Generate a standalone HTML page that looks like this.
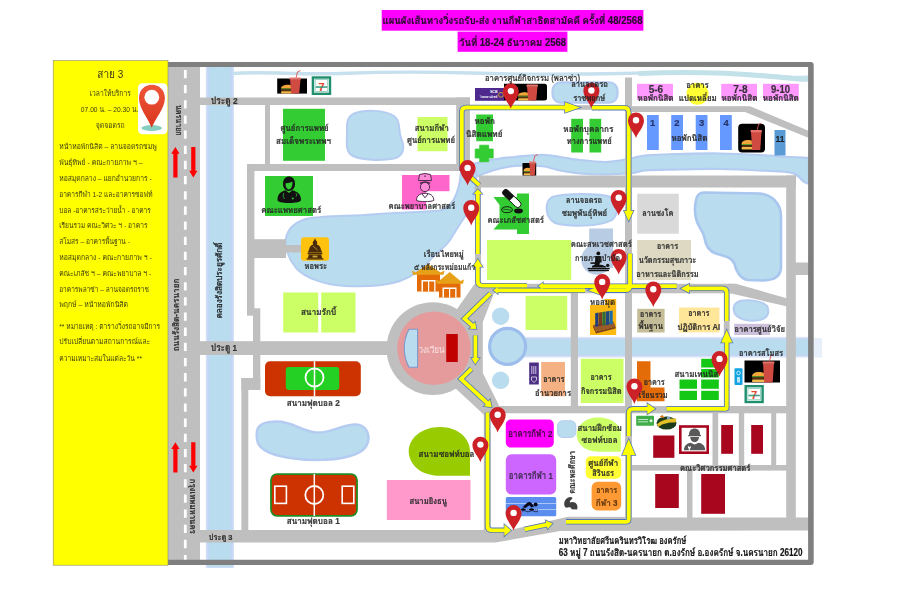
<!DOCTYPE html>
<html lang="th">
<head>
<meta charset="utf-8">
<title>แผนผังเส้นทางวิ่งรถรับ-ส่ง สาย 3</title>
<style>
html,body{margin:0;padding:0;background:#ffffff;}
body{width:900px;height:600px;overflow:hidden;font-family:"Liberation Sans","Loma","Noto Sans Thai Looped","Noto Sans Thai","Sarabun",sans-serif;}
svg{display:block;}
svg text{font-family:"Liberation Sans","Loma","Noto Sans Thai Looped","Noto Sans Thai","Sarabun",sans-serif;}
</style>
</head>
<body>
<svg width="900" height="600" viewBox="0 0 900 600">
<defs>
<symbol id="pin" overflow="visible">
<path d="M0,0 C-1.5,-5 -8,-10.8 -8,-17.5 A8,8 0 1 1 8,-17.5 C8,-10.8 1.5,-5 0,0 Z" fill="#cc2127"/>
<circle cx="0" cy="-17.7" r="3.2" fill="#ffffff"/>
</symbol>
<filter id="soft" x="-2%" y="-2%" width="104%" height="104%"><feGaussianBlur stdDeviation="0.6"/></filter>
<linearGradient id="pg" x1="0" y1="0" x2="0" y2="1"><stop offset="0" stop-color="#f0563a"/><stop offset="1" stop-color="#d8361c"/></linearGradient>
</defs>
<rect x="0" y="0" width="900" height="600" fill="#ffffff"/>
<rect x="168.00" y="62.00" width="645.00" height="504.00" fill="#ffffff"/>
<g id="water" filter="url(#soft)">
<rect x="205.80" y="66.00" width="28.20" height="501.50" fill="#d3e1f8"/>
<rect x="207.30" y="66.00" width="25.30" height="501.50" fill="#c2d5f4"/>
<rect x="209.20" y="66.00" width="21.40" height="501.50" fill="#b9dcee"/>
<path d="M233,73.5 C260,71 300,75 340,73.5 S420,71.5 470,73 S560,75 620,73.5 S720,72 760,75 S800,78 809,77" fill="none" stroke="#c6e0ee" stroke-width="3.4"/>
<path d="M640,73.5 C690,71.5 730,73 765,76 S800,80 809,79" fill="none" stroke="#c3e1e9" stroke-width="5" stroke-linecap="round"/>
<path d="M462,166.5 C463.3,166.2 466.2,165.9 470,165 C473.8,164.1 480.0,162.1 485,161 C490.0,159.9 495.0,159.2 500,158.5 C505.0,157.8 510.0,157.5 515,157 C520.0,156.5 525.0,155.8 530,155.5 C535.0,155.2 540.0,154.8 545,155 C550.0,155.2 554.2,156.2 560,157 C565.8,157.8 572.5,159.2 580,160 C587.5,160.8 598.3,161.9 605,162 C611.7,162.1 615.3,161.2 620,160.5 C624.7,159.8 628.8,158.8 633,158 C637.2,157.2 637.2,156.2 645,155.5 C652.8,154.8 667.5,154.3 680,154 C692.5,153.7 706.7,153.3 720,153.5 C733.3,153.7 748.3,154.4 760,155 C771.7,155.6 781.8,156.5 790,157 C798.2,157.5 805.8,157.8 809,158 L809,184 C808.0,183.5 804.8,182.3 803,181 C801.2,179.7 800.2,177.4 798,176 C795.8,174.6 794.7,173.3 790,172.5 C785.3,171.7 781.7,171.6 770,171 C758.3,170.4 735.0,169.2 720,169 C705.0,168.8 692.5,169.2 680,169.5 C667.5,169.8 652.8,169.9 645,170.5 C637.2,171.1 639.7,172.3 633,173 C626.3,173.7 613.8,174.4 605,174.5 C596.2,174.6 587.5,174.2 580,173.5 C572.5,172.8 565.8,171.7 560,170.5 C554.2,169.3 550.0,167.3 545,166.5 C540.0,165.7 535.0,165.6 530,165.5 C525.0,165.4 520.0,165.3 515,165.8 C510.0,166.3 505.0,167.3 500,168.5 C495.0,169.7 488.7,171.8 485,173 C481.3,174.2 481.8,175.5 478,176 C474.2,176.5 464.7,176.0 462,176 Z" fill="#b9dcee" stroke="#b4ccf1" stroke-width="2.2" stroke-linejoin="round"/>
<path d="M462,166 C470,166 477,168 476.5,176 C476,186 475,194 472.5,202 C470,210 465,216 460,224 L450,240 C446,246 440,250 432,258 C424,268 414,276 400,281 C385,286 365,287 345,286 C325,285 305,278 296,268 C288,258 284,246 286,238 C288,228 296,222 306,219 C325,215 350,216.5 372,214.5 C395,212.5 420,212.5 440,210.5 C452,208 457,195 459.5,183 C460.5,177 461,172 462,166 Z" fill="#b9dcee" stroke="#b4ccf1" stroke-width="2"/>
<path d="M353,114 C365,109 385,110 394,116 C401,121 398,130 401,138 C405,147 404,156 394,158.5 C380,161 362,160 353,156 C345,152 347,142 347,134 C347,126 346,118 353,114 Z" fill="#b9dcee" stroke="#b4ccf1" stroke-width="2"/>
<rect x="552.6" y="82.4" width="64.8" height="20.2" rx="8" fill="#b9dcee" stroke="#b4ccf1" stroke-width="2.4"/>
<path d="M552,197 C565,193 600,193 611,197 C619,201 619,214 612,220 C600,227 568,227 555,223 C545,218 544,202 552,197 Z" fill="#b9dcee" stroke="#b4ccf1" stroke-width="2"/>
<path d="M704,192.5 L760,193.5 C771,194.5 781,203 781,216 L781,267 C781,276 774,280.5 762,280.5 L748,280 C741,279 736,272 734.5,264 C732.5,257.5 724,256 716,253.5 C708,251 705.5,245 704.5,238 C703.5,232 699.5,228 697,222 C694.5,216 694.5,206 696,200 C697,195 700,192.5 704,192.5 Z" fill="#b9dcee" stroke="#a9c6ee" stroke-width="2.6"/>
<path d="M740,301 C750,299 762,301 767,306 C770,312 768,318 760,320 C750,322 740,320 735,314 C732,308 734,303 740,301 Z" fill="#b9dcee" stroke="#b4ccf1" stroke-width="2"/>
<rect x="508.00" y="336.80" width="302.00" height="20.80" fill="#dbe7f9"/>
<rect x="508.00" y="338.20" width="302.00" height="18.00" fill="#c3d6f4"/>
<rect x="508.00" y="340.00" width="302.00" height="14.30" fill="#b9dcee"/>
<circle cx="500.6" cy="316.2" r="8.7" fill="#b9dcee"/>
<circle cx="500.6" cy="380.3" r="8.7" fill="#b9dcee"/>
<circle cx="507.6" cy="346.4" r="18" fill="#b9dcee" stroke="#9dbdec" stroke-width="3.2"/>
<path d="M257,431 C258,424 266,421.5 277,421.5 C292,421.5 303,431.5 316,432.5 C330,433.5 340,425.5 354,424.5 C363,424 368.5,430 368.5,438 C368.5,448 361,453 350,456 C335,460.5 312,461 294,458.5 C278,456.5 264,452 259,445 C256,440 256.5,435 257,431 Z" fill="#b9dcee" stroke="#b4ccf1" stroke-width="2.5"/>
<rect x="557.5" y="420.8" width="18.3" height="16.7" rx="5" fill="#b9dcee" stroke="#b4ccf1" stroke-width="1"/>
</g>
<g id="roads" fill="#bfbfbf">
<rect x="168.00" y="66.00" width="32.00" height="495.00"/>
<rect x="200.00" y="97.50" width="270.00" height="7.50"/>
<rect x="456.20" y="97.50" width="13.80" height="73.50"/>
<rect x="265.00" y="105.00" width="5.00" height="59.00"/>
<rect x="247.00" y="164.00" width="223.00" height="7.00"/>
<rect x="247.00" y="164.00" width="7.40" height="151.70"/>
<rect x="254.00" y="239.20" width="32.00" height="18.80"/>
<rect x="285.00" y="245.00" width="17.00" height="7.50"/>
<rect x="253.00" y="308.30" width="7.30" height="81.70"/>
<rect x="200.00" y="341.20" width="200.00" height="13.80"/>
<rect x="241.40" y="378.00" width="18.90" height="12.00"/>
<rect x="241.40" y="378.00" width="6.90" height="153.00"/>
<rect x="200.00" y="530.00" width="296.00" height="12.50"/>
<path d="M495,530 L510,530 L568,516.8 L809,517.5 L809,530.5 L560,531 L495.5,542.5 Z"/>
<rect x="478.80" y="175.50" width="317.20" height="12.00"/>
<rect x="786.20" y="175.50" width="9.60" height="354.50"/>
<rect x="795.00" y="262.50" width="14.00" height="12.50"/>
<rect x="625.00" y="77.50" width="7.00" height="452.50"/>
<rect x="632.00" y="106.20" width="113.00" height="5.80"/>
<path d="M743,106.2 L750,106.2 L809,131 L809,138 L745,112 Z"/>
<rect x="475.00" y="186.00" width="6.00" height="106.00"/>
<rect x="723.80" y="288.00" width="5.80" height="120.00"/>
<rect x="470.00" y="105.20" width="156.00" height="4.60"/>
<rect x="478.00" y="283.80" width="254.00" height="9.50"/>
<path d="M728,283.8 L736,283.8 L787.5,298.5 L787.5,306.5 L730,293.3 Z"/>
<rect x="570.80" y="292.00" width="7.20" height="115.00"/>
<rect x="482.50" y="406.00" width="304.50" height="7.30"/>
<rect x="483.80" y="406.00" width="7.00" height="125.00"/>
<rect x="632.00" y="413.00" width="155.00" height="105.00"/>
<path d="M474.5,284 L494,293.3 L482.8,322 L482.8,373 L499,405.5 L485.3,416 L453,386 L455,312 Z"/>
<circle cx="432.8" cy="348.6" r="46.3"/>
</g>
<rect x="632.00" y="413.30" width="80.50" height="51.70" fill="#ffffff"/>
<rect x="718.20" y="413.30" width="20.60" height="51.70" fill="#ffffff"/>
<rect x="744.20" y="413.30" width="27.00" height="51.70" fill="#ffffff"/>
<rect x="776.20" y="413.30" width="10.00" height="51.70" fill="#ffffff"/>
<rect x="632.00" y="470.60" width="55.00" height="46.90" fill="#ffffff"/>
<rect x="692.50" y="470.60" width="93.70" height="46.90" fill="#ffffff"/>
<line x1="185.3" y1="69.9" x2="185.3" y2="560" stroke="#ffffff" stroke-width="2.8" stroke-dasharray="8.3 6.86"/>
<g id="buildings">
<rect x="283.00" y="108.80" width="42.00" height="52.00" fill="#33cc33"/>
<rect x="265.00" y="176.00" width="48.00" height="40.00" fill="#33cc33"/>
<rect x="283.20" y="292.50" width="35.00" height="40.00" fill="#ccff66"/>
<rect x="321.20" y="292.50" width="34.30" height="40.00" fill="#ccff66"/>
<rect x="417.50" y="117.00" width="30.00" height="34.20" fill="#ccff66"/>
<rect x="476.20" y="114.50" width="16.80" height="26.70" fill="#33cc33"/>
<path d="M479.7,145.2 h9 v3.8 h4.5 v9 h-4.5 v3.7 h-9 v-3.7 h-4.5 v-9 h4.5 z" fill="#33cc33" stroke="#33cc33" stroke-width="0.8" stroke-linejoin="round"/>
<rect x="571.20" y="118.80" width="11.80" height="33.70" fill="#33cc33"/>
<rect x="589.50" y="118.80" width="11.70" height="33.70" fill="#33cc33"/>
<rect x="402.00" y="175.00" width="47.50" height="16.20" fill="#ff66cc"/>
<rect x="487.00" y="240.00" width="84.20" height="40.00" fill="#ccff66"/>
<rect x="525.60" y="295.80" width="41.60" height="34.20" fill="#ccff66"/>
<rect x="589.20" y="228.50" width="23.80" height="39.50" fill="#b8cce4"/>
<circle cx="596.5" cy="259.5" r="15.3" fill="#b8cce4"/>
<rect x="637.20" y="193.70" width="41.60" height="40.00" fill="#d9d9d9"/>
<rect x="637.20" y="240.00" width="53.80" height="40.00" fill="#ddd9c3"/>
<rect x="637.20" y="308.80" width="27.40" height="23.70" fill="#c4bd97"/>
<rect x="679.00" y="307.50" width="40.40" height="24.90" fill="#ffe699"/>
<rect x="734.20" y="323.80" width="35.80" height="11.20" fill="#ccc0da"/>
<rect x="637.00" y="83.80" width="36.00" height="16.20" fill="#ff99ff"/>
<rect x="721.20" y="83.80" width="35.80" height="16.20" fill="#ff99ff"/>
<rect x="763.00" y="83.80" width="35.80" height="16.20" fill="#ff99ff"/>
<circle cx="697.5" cy="93.8" r="11" fill="#ffff33"/>
<rect x="647.00" y="115.00" width="11.80" height="35.00" fill="#6699ff"/>
<rect x="671.20" y="115.00" width="11.80" height="35.00" fill="#6699ff"/>
<rect x="695.70" y="115.00" width="11.80" height="35.00" fill="#6699ff"/>
<rect x="720.00" y="115.00" width="11.80" height="35.00" fill="#6699ff"/>
<rect x="774.50" y="130.00" width="11.00" height="25.50" fill="#5b9bd5"/>
<rect x="265.00" y="361.20" width="95.80" height="35.00" fill="#cc3300" rx="5"/>
<rect x="285.80" y="367.00" width="53.40" height="23.00" fill="#24d024" rx="3"/>
<line x1="314.5" y1="361.2" x2="314.5" y2="396.2" stroke="#fff" stroke-width="1.5"/>
<circle cx="314.5" cy="377.5" r="9" fill="none" stroke="#fff" stroke-width="1.8"/>
<rect x="271" y="474.2" width="86" height="41.6" rx="6" fill="#cc3300" stroke="#228b22" stroke-width="1.8"/>
<line x1="314.3" y1="474" x2="314.3" y2="516" stroke="#fff" stroke-width="1.5"/>
<circle cx="314.3" cy="495" r="9" fill="none" stroke="#fff" stroke-width="1.8"/>
<rect x="274.8" y="486.2" width="11.6" height="17.2" fill="none" stroke="#fff" stroke-width="1.6"/>
<rect x="342.2" y="486.2" width="11.6" height="17.2" fill="none" stroke="#fff" stroke-width="1.6"/>
<path d="M470,475.8 L440,475.8 C420,475.8 408.7,464 408.7,451 C408.7,438 422,427 440,427 C458,427 470,438 470,452 Z" fill="#99cc00"/>
<rect x="386.80" y="480.00" width="83.70" height="40.00" fill="#ff99cc"/>
<rect x="505.80" y="419.50" width="48.00" height="28.00" fill="#ff00ff" rx="5"/>
<rect x="505.80" y="454.20" width="50.40" height="40.30" fill="#cc66ff" rx="6"/>
<rect x="505.80" y="497.00" width="50.40" height="19.20" fill="#5b8def" rx="1.5"/>
<line x1="506" y1="503.5" x2="556" y2="503.5" stroke="#a9c6f7" stroke-width="1"/>
<line x1="506" y1="509.5" x2="556" y2="509.5" stroke="#a9c6f7" stroke-width="1"/>
<path d="M620.8,451.7 L598,451.7 C585,451.7 576.7,444 576.7,434.5 C576.7,425 586,417.5 598,417.5 C612,417.5 620.8,425 620.8,434 Z" fill="#ccff66"/>
<rect x="585.80" y="456.20" width="35.40" height="22.60" fill="#ffff33" rx="5"/>
<rect x="591.60" y="481.80" width="29.60" height="28.70" fill="#ff9933" rx="6"/>
<rect x="541.20" y="362.00" width="23.80" height="34.20" fill="#f4b183"/>
<rect x="580.80" y="358.80" width="42.70" height="44.20" fill="#ccff66"/>
<path d="M637,361.2 H650.5 V387.5 H664.5 V401.2 H637 Z" fill="#e36c09"/>
<rect x="701.2" y="358.8" width="17.6" height="8.7" fill="#16c816"/>
<rect x="701.2" y="369" width="17.6" height="8.5" fill="#16c816"/>
<rect x="679.5" y="379.5" width="17.5" height="9.3" fill="#16c816"/>
<rect x="701.2" y="379.5" width="17.6" height="9.3" fill="#16c816"/>
<rect x="679.5" y="390.8" width="17.5" height="9.2" fill="#16c816"/>
<rect x="701.2" y="390.8" width="17.6" height="9.2" fill="#16c816"/>
<rect x="653.20" y="435.50" width="21.20" height="22.30" fill="#a8061f"/>
<rect x="721.20" y="425.00" width="11.80" height="28.80" fill="#a8061f"/>
<rect x="751.20" y="425.00" width="11.80" height="28.80" fill="#a8061f"/>
<rect x="655.20" y="474.00" width="23.60" height="34.00" fill="#a8061f"/>
<rect x="701.20" y="474.00" width="23.80" height="39.80" fill="#a8061f"/>
<circle cx="434" cy="348.3" r="36.8" fill="#e59b9c"/>
<path d="M417.6,329.2 L417.6,367.2 L409,367.2 C405.2,360 404.2,354 404.2,348.2 C404.2,342.4 405.2,336.4 409,329.2 Z" fill="#b9dcee" stroke="#7f97c9" stroke-width="1.1"/>
<rect x="446.20" y="334.00" width="11.60" height="28.00" fill="#c00000"/>
</g>
<g id="icons">
<rect x="277.20" y="78.50" width="29.80" height="15.10" fill="#000"/>
<path d="M281,88.50 C281,83.61 294.5,83.61 294.5,88.50 Z" fill="#f2a63a"/>
<rect x="281" y="88.50" width="13.5" height="1.07" fill="#5aa02c"/>
<rect x="281.3" y="89.57" width="12.9" height="1.60" fill="#5b2d14"/>
<rect x="281" y="91.18" width="13.5" height="2.23" rx="1" fill="#f2b94a"/>
<path d="M290,79.5 H300.5 L299.24,93.6 H291.26 Z" fill="#cf4a41"/>
<rect x="289.6" y="77.5" width="11.3" height="2.2" rx="0.6" fill="#e8736b"/>
<path d="M296.25,77.5 l1.2,-5.5 l3,-1.4" fill="none" stroke="#d9534f" stroke-width="0.9"/>
<rect x="312.9" y="77.5" width="17.10" height="16.30" fill="#fff" stroke="#1f8f6d" stroke-width="2.4"/>
<rect x="315.09999999999997" y="79.7" width="12.70" height="11.90" fill="none" stroke="#5fb59b" stroke-width="0.6"/>
<text x="321.45" y="86.05" font-size="11.6" font-weight="bold" fill="#e8452a" text-anchor="middle" dominant-baseline="central" font-family="Liberation Sans,sans-serif">7</text>
<rect x="315.7" y="86.25" width="11.50" height="1.6" fill="#1f8f6d" opacity="0.85"/>
<rect x="475.00" y="88.00" width="29.50" height="12.80" fill="#4e2a8e"/>
<text x="497.5" y="92.3" font-size="3.6" font-weight="bold" fill="#fff" text-anchor="end" dominant-baseline="central">SCB</text>
<text x="497.5" y="96.8" font-size="3.4" font-weight="bold" fill="#fff" text-anchor="end" dominant-baseline="central">ไทยพาณิชย์</text>
<circle cx="501" cy="94.8" r="2.4" fill="none" stroke="#c9a13b" stroke-width="1"/>
<path d="M504,83.8 H544.5 Q547,83.8 547,86.3 V98.1 Q547,100.6 544.5,100.6 H504 Z" fill="#000"/>
<path d="M518,95.78 C518,91.16 531,91.16 531,95.78 Z" fill="#f2a63a"/>
<rect x="518" y="95.78" width="13" height="1.01" fill="#5aa02c"/>
<rect x="518.3" y="96.79" width="12.4" height="1.51" fill="#5b2d14"/>
<rect x="518" y="98.30" width="13" height="2.10" rx="1" fill="#f2b94a"/>
<path d="M527,86.6 H537.5 L536.24,100.6 H528.26 Z" fill="#cf4a41"/>
<rect x="526.6" y="84.6" width="11.3" height="2.2" rx="0.6" fill="#e8736b"/>
<rect x="522.50" y="163.00" width="13.70" height="12.50" fill="#000"/>
<path d="M523.5,170.97 C523.5,166.73 532,166.73 532,170.97 Z" fill="#f2a63a"/>
<rect x="523.5" y="170.97" width="8.5" height="0.92" fill="#5aa02c"/>
<rect x="523.8" y="171.89" width="7.9" height="1.39" fill="#5b2d14"/>
<rect x="523.5" y="173.27" width="8.5" height="1.92" rx="1" fill="#f2b94a"/>
<path d="M529.5,163.5 H535.5 L534.78,175.5 H530.22 Z" fill="#cf4a41"/>
<rect x="529.1" y="161.5" width="6.8" height="2.2" rx="0.6" fill="#e8736b"/>
<path d="M533.50,161.5 l1.2,-5.5 l3,-1.4" fill="none" stroke="#d9534f" stroke-width="0.9"/>
<rect x="738.20" y="123.80" width="26.80" height="28.70" fill="#000" rx="4"/>
<path d="M741.5,144.00 C741.5,138.50 754.5,138.50 754.5,144.00 Z" fill="#f2a63a"/>
<rect x="741.5" y="144.00" width="13.0" height="1.20" fill="#5aa02c"/>
<rect x="741.8" y="145.20" width="12.4" height="1.80" fill="#5b2d14"/>
<rect x="741.5" y="147.00" width="13.0" height="2.50" rx="1" fill="#f2b94a"/>
<path d="M751,132 H761.5 L760.24,150 H752.26 Z" fill="#cf4a41"/>
<rect x="750.6" y="130" width="11.3" height="2.2" rx="0.6" fill="#e8736b"/>
<path d="M757.25,130 l1.2,-5.5 l3,-1.4" fill="none" stroke="#d9534f" stroke-width="0.9"/>
<rect x="744.50" y="360.50" width="35.50" height="22.00" fill="#000"/>
<path d="M752,376.23 C752,370.45 766,370.45 766,376.23 Z" fill="#f2a63a"/>
<rect x="752" y="376.23" width="14" height="1.26" fill="#5aa02c"/>
<rect x="752.3" y="377.49" width="13.4" height="1.89" fill="#5b2d14"/>
<rect x="752" y="379.38" width="14" height="2.62" rx="1" fill="#f2b94a"/>
<path d="M763,363.5 H774 L772.68,382.5 H764.32 Z" fill="#cf4a41"/>
<rect x="762.6" y="361.5" width="11.8" height="2.2" rx="0.6" fill="#e8736b"/>
<path d="M769.50,361.5 l1.2,-5.5 l3,-1.4" fill="none" stroke="#d9534f" stroke-width="0.9"/>
<rect x="745.7" y="386.2" width="16.90" height="15.80" fill="#fff" stroke="#1f8f6d" stroke-width="2.4"/>
<rect x="747.9" y="388.4" width="12.50" height="11.40" fill="none" stroke="#5fb59b" stroke-width="0.6"/>
<text x="754.15" y="394.50" font-size="11.3" font-weight="bold" fill="#e8452a" text-anchor="middle" dominant-baseline="central" font-family="Liberation Sans,sans-serif">7</text>
<rect x="748.5" y="394.70" width="11.30" height="1.6" fill="#1f8f6d" opacity="0.85"/>
<rect x="734.50" y="368.20" width="8.00" height="16.80" fill="#12a3e3" rx="1"/>
<circle cx="738.5" cy="373" r="1.8" fill="none" stroke="#fff" stroke-width="0.7"/>
<rect x="737" y="377" width="3" height="5.5" fill="#fff" opacity="0.7"/>
<rect x="529.20" y="362.50" width="9.60" height="22.00" fill="#4b2e83"/>
<path d="M531.5,377 h5 v3 l-2.5,2.6 l-2.5,-2.6 z" fill="none" stroke="#fff" stroke-width="0.7"/>
<rect x="531.3" y="366" width="1" height="8" fill="#cfc4e6"/><rect x="533.3" y="366" width="1" height="8" fill="#cfc4e6"/><rect x="535.3" y="366" width="1" height="8" fill="#cfc4e6"/>
<g fill="#111">
<path d="M283,184 C283,178.5 286,176.6 289,176.6 C292,176.6 295,178.5 295,184 C295,188 292.5,191 289,191 C285.5,191 283,188 283,184 Z"/>
<path d="M277.5,200 C277.5,194 281,191.5 285.5,190.3 L289,193 L292.5,190.3 C297,191.5 301,194 301,200 C301,202 296,203 289,203 C282,203 277.5,202 277.5,200 Z"/>
</g>
<path d="M285.6,183.2 C287.5,183.4 290.5,182.6 292.4,181.6 C292.8,186 291.2,189.4 289,189.4 C286.8,189.4 285.2,186.5 285.6,183.2 Z" fill="#33cc33"/>
<circle cx="292.8" cy="198.6" r="1" fill="#33cc33"/><path d="M283.5,193 q-1,4 1,6" stroke="#33cc33" stroke-width="0.7" fill="none"/><path d="M296,193 q1.5,2 0,3.6" stroke="#33cc33" stroke-width="0.7" fill="none"/>
<rect x="402.00" y="191.00" width="24.00" height="18.50" fill="#ff66cc"/>
<g fill="none" stroke="#4d2f4d" stroke-width="1">
<path d="M418.5,180.5 L419.5,174.5 Q425,172.5 430.5,174.5 L431.5,180.5 Z" fill="#ff8ad8"/>
<circle cx="425" cy="187" r="4.6" fill="#ff8ad8"/>
<path d="M420,183.5 Q425,180.5 430,183.5" stroke-width="1.6"/>
<path d="M416.5,200.5 C416.5,195.5 420,193.3 425,193.3 C430,193.3 433.8,195.5 433.8,200.5 C430,202 420,202 416.5,200.5 Z" fill="#fff"/>
<path d="M422,193.8 l3,4 l3,-4"/>
</g>
<path d="M424.2,176.2 h1.6 M425,175.4 v1.6" stroke="#4d2f4d" stroke-width="0.7"/>
<rect x="301.00" y="237.30" width="28.00" height="23.40" fill="#ffc20e" rx="3"/>
<g fill="#4a2c0a">
<path d="M315,238.2 L316,240.5 C317.3,241 317.6,243 316.8,244.6 C319.5,245.2 320.6,247.5 321,250 L322.3,252.3 H307.7 L309,250 C309.4,247.5 310.5,245.2 313.2,244.6 C312.4,243 312.7,241 314,240.5 Z"/>
<rect x="307.6" y="252.4" width="14.8" height="2.2" rx="1"/>
<path d="M308.8,254.8 H321.2 L322.2,258.2 H307.8 Z"/>
<rect x="306.6" y="258.2" width="16.8" height="1.4"/>
</g>
<path d="M313,246 l4.5,4" stroke="#c9a13b" stroke-width="0.8"/><rect x="312.6" y="255.6" width="4.8" height="1.8" fill="#caa53a"/>
<g>
<rect x="417" y="274" width="23" height="17.5" fill="#e36c09"/>
<path d="M413,274.8 L411.8,270.5 L415.5,272.5 L428,264 L440.5,272.5 L444.5,270.5 L443.5,274.8 Z" fill="#e6a118"/>
<rect x="421.5" y="280" width="14" height="11.5" fill="#fff"/><rect x="423" y="281.5" width="5" height="10" fill="#e36c09"/><rect x="429.2" y="281.5" width="5" height="10" fill="#e36c09"/>
<rect x="439" y="283" width="21.5" height="14.5" fill="#e36c09"/>
<path d="M437,283.8 L435.8,279.5 L439,281 L449.7,272 L460.5,281 L464,279.5 L463,283.8 Z" fill="#e6a118"/>
<rect x="442.5" y="287.5" width="14" height="10" fill="#fff"/><rect x="444" y="289" width="5" height="8.5" fill="#e36c09"/><rect x="450.2" y="289" width="5" height="8.5" fill="#e36c09"/>
</g>
<path d="M493.5,197 H517 V229.5 H493.5 L499.5,222.5 V205 Z" fill="#33cc33"/>
<rect x="517.00" y="193.50" width="12.00" height="40.50" fill="#33cc33"/>
<g transform="rotate(44 511.8 198.5)"><rect x="500.3" y="195.3" width="23" height="6.4" rx="3.2" fill="#fff" stroke="#111" stroke-width="0.9"/><path d="M503.5,195.3 H511.8 V201.7 H503.5 A3.2,3.2 0 0 1 503.5,195.3 Z" fill="#111"/></g>
<ellipse cx="507" cy="209.7" rx="5.5" ry="3" fill="none" stroke="#111" stroke-width="0.9"/><path d="M502.5,209 l9,1.2" stroke="#111" stroke-width="0.6"/>
<ellipse cx="518.5" cy="211" rx="4.4" ry="2.4" fill="#111"/>
<g fill="#111">
<circle cx="598.3" cy="253.4" r="1.9"/>
<path d="M595.5,256 h5.2 l1,6.5 h-2 l-0.5,3 h-4.5 z"/>
<path d="M590.5,262.3 h9 v1.6 h-9 z"/>
<circle cx="607.7" cy="265.4" r="1.7"/>
<path d="M592,266 C596,263.6 602,264.2 606,266.6 L606,267.6 H592 Z"/>
<rect x="587.7" y="267.9" width="22" height="1.5"/>
<rect x="588.5" y="269.9" width="20.4" height="1.3"/>
</g>
<path d="M590,305 H605 V299 H616.2 V335 H590 Z" fill="#fdb913"/>
<path d="M593,325 L613.5,321.5 L615.5,326.5 L596,331.5 Z" fill="#9a5a2a"/>
<path d="M596,331.5 L615.5,326.5 L615.5,328.5 L596,333.5 Z" fill="#7a431c"/><path d="M593,325 L596,331.5 L596,333.5 L593,327 Z" fill="#6a3a18"/>
<path d="M595.20,313.20 l3.3,-0.6 v13.6 l-3.3,0.6 z" fill="#1f3f7a"/>
<path d="M598.75,312.65 l3.3,-0.6 v13.6 l-3.3,0.6 z" fill="#7a3b1f"/>
<path d="M602.30,312.10 l3.3,-0.6 v13.6 l-3.3,0.6 z" fill="#2e6b3a"/>
<path d="M605.85,311.55 l3.3,-0.6 v13.6 l-3.3,0.6 z" fill="#20457f"/>
<path d="M609.40,311.00 l3.3,-0.6 v13.6 l-3.3,0.6 z" fill="#1b6ca8"/>
<g fill="#0a0a1a">
<circle cx="535.6" cy="504.4" r="2"/>
<path d="M522.5,507.2 L527.5,502.6 C529,501.6 530.5,501.8 531.5,503 L534,506.4 L531.5,507.6 L529.2,505.2 L525.5,508 Z"/>
<path d="M521,509 q2.1,-1.6 4.2,0 t4.2,0 t4.2,0 t4.2,0 v1 q-2.1,-1.6 -4.2,0 t-4.2,0 t-4.2,0 t-4.2,0 z"/>
<path d="M522,511.2 q2,-1.4 4,0 t4,0 t4,0 t4,0" fill="none" stroke="#0a0a1a" stroke-width="0.7"/>
</g>
<path d="M564.2,503.5 C564.5,500 567,497.2 570.5,497 C572.5,497 573,498.6 571.5,499.6 C570,500.5 569.5,501.6 570,502.6 C572,501.6 575.5,502 576.8,504.5 C577.8,506.5 577.5,508.5 577,509.5 L571.5,509.3 C571.5,507.5 569.5,507 568,507.6 C565.5,508.3 564,506.5 564.2,503.5 Z" fill="#404040"/>
<rect x="636.20" y="415.80" width="17.80" height="10.00" fill="#3fae49" rx="0.8"/>
<rect x="638" y="419" width="10" height="1" fill="#bfe6c3"/><rect x="638" y="421.3" width="10" height="1" fill="#bfe6c3"/><circle cx="651" cy="420.8" r="1.5" fill="#dff2e1"/>
<ellipse cx="666.5" cy="423" rx="10" ry="6.6" fill="#1d3a1a"/>
<path d="M657,424.5 C661,419.5 670,418 676.5,418.5 L675.5,422.5 C669,422 662,423.5 658.5,427 Z" fill="#e3bf25"/>
<path d="M659.5,417 l3,-2.2 l2,3.2 z" fill="#e07b1a"/><circle cx="668.5" cy="418" r="1.6" fill="#7fa8d8"/>
<rect x="680.3" y="426.5" width="27.4" height="26.2" fill="#fff" stroke="#a8061f" stroke-width="2.6"/>
<g fill="#595959">
<path d="M689,435 C689,430.5 691.5,428.5 694.5,428.5 C697.5,428.5 700.2,430.5 700.2,435 L701,435 L701,436.2 L688.2,436.2 L688.2,435 Z"/>
<path d="M690.2,437 H699 C699,440 697,442 694.6,442 C692.2,442 690.2,440 690.2,437 Z"/>
<path d="M684,450.3 C684,445.5 687,443.6 690.5,442.8 L694.6,444.6 L698.7,442.8 C702.2,443.6 705.2,445.5 705.2,450.3 Z"/>
</g>
<path d="M688,445.8 l1.4,1.4 l1.4,-1.4 l0,2.2 l-0.8,0.8 v1.5 h-1.2 v-1.5 l-0.8,-0.8 z" fill="#fff"/>
</g>
<path d="M175.4,147 L179.55,153.8 H177.5 V177.6 H173.3 V153.8 H171.25 Z" fill="#ff0000"/>
<path d="M193.3,177.6 L197.45000000000002,170.79999999999998 H195.4 V147 H191.20000000000002 V170.79999999999998 H189.15 Z" fill="#ff0000"/>
<path d="M175.4,442.3 L179.55,449.1 H177.5 V472.6 H173.3 V449.1 H171.25 Z" fill="#ff0000"/>
<path d="M193.3,472.6 L197.45000000000002,465.8 H195.4 V442.3 H191.20000000000002 V465.8 H189.15 Z" fill="#ff0000"/>
<g id="route" fill="none" stroke-linejoin="miter" stroke-linecap="butt">
<path d="M461.8,171 V112 Q461.8,107.5 466.3,107.5 H566" stroke="#4f74ba" stroke-width="5.4"/>
<path d="M591.8,107.7 H624.2 Q628.7,107.7 628.7,112.2 V211.5" stroke="#4f74ba" stroke-width="5.4"/>
<path d="M467.3,174.2 L479.3,185.2" stroke="#4f74ba" stroke-width="5.4"/>
<path d="M477.8,254 V193" stroke="#4f74ba" stroke-width="5.4"/>
<path d="M527,285.6 H482.2 Q477.8,285.6 477.8,281 V266" stroke="#4f74ba" stroke-width="5.4"/>
<path d="M676.7,286.2 H542" stroke="#4f74ba" stroke-width="5.4"/>
<path d="M630,253.5 V286 Q630,290.2 625.5,290.2 H599" stroke="#4f74ba" stroke-width="5.4"/>
<path d="M585,290.3 H497" stroke="#4f74ba" stroke-width="5.4"/>
<path d="M726.7,321 V292.6 Q726.7,288.4 722.4,288.4 H688" stroke="#4f74ba" stroke-width="5.4"/>
<path d="M490.4,293.4 L464.5,318.6 L472.68,325.71" stroke="#4f74ba" stroke-width="5.4"/>
<path d="M475.4,335.3 V358.5" stroke="#4f74ba" stroke-width="5.4"/>
<path d="M471.5,368.8 L461,379 L487.49,403.23" stroke="#4f74ba" stroke-width="5.4"/>
<path d="M487.5,412.5 V526 Q487.5,530.3 492,530.3 H505" stroke="#4f74ba" stroke-width="5.4"/>
<path d="M524.6,529.3 L547.12,524.62" stroke="#4f74ba" stroke-width="5.4"/>
<path d="M566,521.8 H626.5 Q628.7,521.8 628.7,519.6 V454" stroke="#4f74ba" stroke-width="5.4"/>
<path d="M628.7,436 V413.2 Q628.7,408.8 633.2,408.8 H648" stroke="#4f74ba" stroke-width="5.4"/>
<path d="M666.6,408.9 H725 Q726.7,408.9 726.7,407.2 V342" stroke="#4f74ba" stroke-width="5.4"/>
<polygon points="580.00,107.50 565.00,112.70 565.00,102.30" fill="#4f74ba" stroke="#4f74ba" stroke-width="1.4" stroke-linejoin="miter"/>
<polygon points="628.70,221.00 624.00,210.80 633.40,210.80" fill="#4f74ba" stroke="#4f74ba" stroke-width="1.4" stroke-linejoin="miter"/>
<polygon points="477.80,189.30 482.00,193.90 473.60,193.90" fill="#4f74ba" stroke="#4f74ba" stroke-width="1.4" stroke-linejoin="miter"/>
<polygon points="477.80,259.00 482.60,266.80 473.00,266.80" fill="#4f74ba" stroke="#4f74ba" stroke-width="1.4" stroke-linejoin="miter"/>
<polygon points="538.30,286.00 542.90,282.60 542.90,289.40" fill="#4f74ba" stroke="#4f74ba" stroke-width="1.4" stroke-linejoin="miter"/>
<polygon points="588.30,290.20 599.80,286.00 599.80,294.40" fill="#4f74ba" stroke="#4f74ba" stroke-width="1.4" stroke-linejoin="miter"/>
<polygon points="493.30,290.30 497.70,286.90 497.70,293.70" fill="#4f74ba" stroke="#4f74ba" stroke-width="1.4" stroke-linejoin="miter"/>
<polygon points="680.80,288.40 689.20,284.00 689.20,292.80" fill="#4f74ba" stroke="#4f74ba" stroke-width="1.4" stroke-linejoin="miter"/>
<polygon points="476.40,329.00 469.29,328.63 475.08,322.00" fill="#4f74ba" stroke="#4f74ba" stroke-width="1.4" stroke-linejoin="miter"/>
<polygon points="475.40,364.20 471.30,357.90 479.50,357.90" fill="#4f74ba" stroke="#4f74ba" stroke-width="1.4" stroke-linejoin="miter"/>
<polygon points="491.80,407.20 483.96,406.16 490.02,399.50" fill="#4f74ba" stroke="#4f74ba" stroke-width="1.4" stroke-linejoin="miter"/>
<polygon points="511.00,530.30 504.40,536.10 504.40,524.50" fill="#4f74ba" stroke="#4f74ba" stroke-width="1.4" stroke-linejoin="miter"/>
<polygon points="552.50,523.50 547.52,529.03 545.73,520.41" fill="#4f74ba" stroke="#4f74ba" stroke-width="1.4" stroke-linejoin="miter"/>
<polygon points="628.70,439.30 635.30,455.10 622.10,455.10" fill="#4f74ba" stroke="#4f74ba" stroke-width="1.4" stroke-linejoin="miter"/>
<polygon points="655.20,408.80 647.40,414.20 647.40,403.40" fill="#4f74ba" stroke="#4f74ba" stroke-width="1.4" stroke-linejoin="miter"/>
<polygon points="726.70,330.00 732.20,342.50 721.20,342.50" fill="#4f74ba" stroke="#4f74ba" stroke-width="1.4" stroke-linejoin="miter"/>
<path d="M461.8,171 V112 Q461.8,107.5 466.3,107.5 H566" stroke="#ffff00" stroke-width="3.8"/>
<path d="M591.8,107.7 H624.2 Q628.7,107.7 628.7,112.2 V211.5" stroke="#ffff00" stroke-width="3.8"/>
<path d="M467.3,174.2 L479.3,185.2" stroke="#ffff00" stroke-width="3.8"/>
<path d="M477.8,254 V193" stroke="#ffff00" stroke-width="3.8"/>
<path d="M527,285.6 H482.2 Q477.8,285.6 477.8,281 V266" stroke="#ffff00" stroke-width="3.8"/>
<path d="M676.7,286.2 H542" stroke="#ffff00" stroke-width="3.8"/>
<path d="M630,253.5 V286 Q630,290.2 625.5,290.2 H599" stroke="#ffff00" stroke-width="3.8"/>
<path d="M585,290.3 H497" stroke="#ffff00" stroke-width="3.8"/>
<path d="M726.7,321 V292.6 Q726.7,288.4 722.4,288.4 H688" stroke="#ffff00" stroke-width="3.8"/>
<path d="M490.4,293.4 L464.5,318.6 L472.68,325.71" stroke="#ffff00" stroke-width="3.8"/>
<path d="M475.4,335.3 V358.5" stroke="#ffff00" stroke-width="3.8"/>
<path d="M471.5,368.8 L461,379 L487.49,403.23" stroke="#ffff00" stroke-width="3.8"/>
<path d="M487.5,412.5 V526 Q487.5,530.3 492,530.3 H505" stroke="#ffff00" stroke-width="3.8"/>
<path d="M524.6,529.3 L547.12,524.62" stroke="#ffff00" stroke-width="3.8"/>
<path d="M566,521.8 H626.5 Q628.7,521.8 628.7,519.6 V454" stroke="#ffff00" stroke-width="3.8"/>
<path d="M628.7,436 V413.2 Q628.7,408.8 633.2,408.8 H648" stroke="#ffff00" stroke-width="3.8"/>
<path d="M666.6,408.9 H725 Q726.7,408.9 726.7,407.2 V342" stroke="#ffff00" stroke-width="3.8"/>
<polygon points="580.00,107.50 565.00,112.70 565.00,102.30" fill="#ffff00" stroke="none"/>
<polygon points="628.70,221.00 624.00,210.80 633.40,210.80" fill="#ffff00" stroke="none"/>
<polygon points="477.80,189.30 482.00,193.90 473.60,193.90" fill="#ffff00" stroke="none"/>
<polygon points="477.80,259.00 482.60,266.80 473.00,266.80" fill="#ffff00" stroke="none"/>
<polygon points="538.30,286.00 542.90,282.60 542.90,289.40" fill="#ffff00" stroke="none"/>
<polygon points="588.30,290.20 599.80,286.00 599.80,294.40" fill="#ffff00" stroke="none"/>
<polygon points="493.30,290.30 497.70,286.90 497.70,293.70" fill="#ffff00" stroke="none"/>
<polygon points="680.80,288.40 689.20,284.00 689.20,292.80" fill="#ffff00" stroke="none"/>
<polygon points="476.40,329.00 469.29,328.63 475.08,322.00" fill="#ffff00" stroke="none"/>
<polygon points="475.40,364.20 471.30,357.90 479.50,357.90" fill="#ffff00" stroke="none"/>
<polygon points="491.80,407.20 483.96,406.16 490.02,399.50" fill="#ffff00" stroke="none"/>
<polygon points="511.00,530.30 504.40,536.10 504.40,524.50" fill="#ffff00" stroke="none"/>
<polygon points="552.50,523.50 547.52,529.03 545.73,520.41" fill="#ffff00" stroke="none"/>
<polygon points="628.70,439.30 635.30,455.10 622.10,455.10" fill="#ffff00" stroke="none"/>
<polygon points="655.20,408.80 647.40,414.20 647.40,403.40" fill="#ffff00" stroke="none"/>
<polygon points="726.70,330.00 732.20,342.50 721.20,342.50" fill="#ffff00" stroke="none"/>
</g>
<use href="#pin" x="510.8" y="108.8"/>
<use href="#pin" x="591.4" y="108.2"/>
<use href="#pin" x="467.6" y="185.6"/>
<use href="#pin" x="471.25" y="225.4"/>
<use href="#pin" x="636" y="138"/>
<use href="#pin" x="618.7" y="215.5"/>
<use href="#pin" x="618.7" y="274.5"/>
<use href="#pin" x="602.2" y="299.6"/>
<use href="#pin" x="653.3" y="307"/>
<use href="#pin" x="719.5" y="376.6"/>
<use href="#pin" x="634.4" y="404"/>
<use href="#pin" x="497.7" y="432.4"/>
<use href="#pin" x="480.4" y="462.3"/>
<use href="#pin" x="513.6" y="530.6"/>
<g id="labels" opacity="0.92">
<text x="211.00" y="101.00" font-size="9" font-weight="bold" fill="#262626" text-anchor="start" dominant-baseline="central" textLength="26.5" lengthAdjust="spacingAndGlyphs" stroke="#262626" stroke-width="0.2">ประตู 2</text>
<text x="211.00" y="348.00" font-size="9" font-weight="bold" fill="#262626" text-anchor="start" dominant-baseline="central" textLength="26.0" lengthAdjust="spacingAndGlyphs" stroke="#262626" stroke-width="0.2">ประตู 1</text>
<text x="208.80" y="537.00" font-size="7.5" font-weight="bold" fill="#262626" text-anchor="start" dominant-baseline="central" textLength="23.7" lengthAdjust="spacingAndGlyphs" stroke="#262626" stroke-width="0.2">ประตู 3</text>
<text x="304.60" y="127.50" font-size="8.6" font-weight="bold" fill="#262626" text-anchor="middle" dominant-baseline="central" textLength="48.0" lengthAdjust="spacingAndGlyphs" stroke="#262626" stroke-width="0.2">ศูนย์การแพทย์</text>
<text x="303.50" y="141.00" font-size="8.6" font-weight="bold" fill="#262626" text-anchor="middle" dominant-baseline="central" textLength="55.0" lengthAdjust="spacingAndGlyphs" stroke="#262626" stroke-width="0.2">สมเด็จพระเทพฯ</text>
<text x="291.20" y="209.50" font-size="8.6" font-weight="bold" fill="#262626" text-anchor="middle" dominant-baseline="central" textLength="60.0" lengthAdjust="spacingAndGlyphs" stroke="#262626" stroke-width="0.2">คณะแพทยศาสตร์</text>
<text x="315.80" y="266.30" font-size="8.6" font-weight="bold" fill="#262626" text-anchor="middle" dominant-baseline="central" textLength="22.5" lengthAdjust="spacingAndGlyphs" stroke="#262626" stroke-width="0.2">หอพระ</text>
<text x="318.60" y="312.00" font-size="8.6" font-weight="bold" fill="#262626" text-anchor="middle" dominant-baseline="central" textLength="35.0" lengthAdjust="spacingAndGlyphs" stroke="#262626" stroke-width="0.2">สนามรักบี้</text>
<text x="313.20" y="402.50" font-size="8.6" font-weight="bold" fill="#262626" text-anchor="middle" dominant-baseline="central" textLength="53.0" lengthAdjust="spacingAndGlyphs" stroke="#262626" stroke-width="0.2">สนามฟุตบอล 2</text>
<text x="313.20" y="521.30" font-size="8.6" font-weight="bold" fill="#262626" text-anchor="middle" dominant-baseline="central" textLength="53.0" lengthAdjust="spacingAndGlyphs" stroke="#262626" stroke-width="0.2">สนามฟุตบอล 1</text>
<text x="431.80" y="127.50" font-size="8.6" font-weight="bold" fill="#262626" text-anchor="middle" dominant-baseline="central" textLength="34.0" lengthAdjust="spacingAndGlyphs" stroke="#262626" stroke-width="0.2">สนามกีฬา</text>
<text x="431.00" y="140.00" font-size="8.6" font-weight="bold" fill="#262626" text-anchor="middle" dominant-baseline="central" textLength="48.0" lengthAdjust="spacingAndGlyphs" stroke="#262626" stroke-width="0.2">ศูนย์การแพทย์</text>
<text x="484.70" y="121.20" font-size="8.6" font-weight="bold" fill="#262626" text-anchor="middle" dominant-baseline="central" textLength="20.5" lengthAdjust="spacingAndGlyphs" stroke="#262626" stroke-width="0.2">หอพัก</text>
<text x="484.20" y="133.80" font-size="8.6" font-weight="bold" fill="#262626" text-anchor="middle" dominant-baseline="central" textLength="36.5" lengthAdjust="spacingAndGlyphs" stroke="#262626" stroke-width="0.2">นิสิตแพทย์</text>
<text x="588.30" y="129.00" font-size="8.6" font-weight="bold" fill="#262626" text-anchor="middle" dominant-baseline="central" textLength="50.0" lengthAdjust="spacingAndGlyphs" stroke="#262626" stroke-width="0.2">หอพักบุคลากร</text>
<text x="589.20" y="141.00" font-size="8.6" font-weight="bold" fill="#262626" text-anchor="middle" dominant-baseline="central" textLength="45.0" lengthAdjust="spacingAndGlyphs" stroke="#262626" stroke-width="0.2">ทางการแพทย์</text>
<text x="532.50" y="77.50" font-size="8.6" font-weight="normal" fill="#0a0a0a" text-anchor="middle" dominant-baseline="central" textLength="95.0" lengthAdjust="spacingAndGlyphs" stroke="#0a0a0a" stroke-width="0.2">อาคารศูนย์กิจกรรม (พลาซ่า)</text>
<text x="589.50" y="84.00" font-size="8.6" font-weight="bold" fill="#262626" text-anchor="middle" dominant-baseline="central" textLength="36.6" lengthAdjust="spacingAndGlyphs" stroke="#262626" stroke-width="0.2">ลานจอดรถ</text>
<text x="589.20" y="97.80" font-size="8.6" font-weight="bold" fill="#262626" text-anchor="middle" dominant-baseline="central" textLength="32.0" lengthAdjust="spacingAndGlyphs" stroke="#262626" stroke-width="0.2">ราชพฤกษ์</text>
<text x="655.90" y="88.80" font-size="11" font-weight="bold" fill="#262626" text-anchor="middle" dominant-baseline="central" textLength="14.5" lengthAdjust="spacingAndGlyphs" stroke="#262626" stroke-width="0.2">5-6</text>
<text x="655.60" y="97.60" font-size="8.6" font-weight="bold" fill="#262626" text-anchor="middle" dominant-baseline="central" textLength="36.0" lengthAdjust="spacingAndGlyphs" stroke="#262626" stroke-width="0.2">หอพักนิสิต</text>
<text x="697.50" y="84.50" font-size="8.6" font-weight="bold" fill="#262626" text-anchor="middle" dominant-baseline="central" textLength="22.5" lengthAdjust="spacingAndGlyphs" stroke="#262626" stroke-width="0.2">อาคาร</text>
<text x="697.80" y="97.50" font-size="8.6" font-weight="bold" fill="#262626" text-anchor="middle" dominant-baseline="central" textLength="38.0" lengthAdjust="spacingAndGlyphs" stroke="#262626" stroke-width="0.2">แปดเหลี่ยม</text>
<text x="740.40" y="88.80" font-size="11" font-weight="bold" fill="#262626" text-anchor="middle" dominant-baseline="central" textLength="14.5" lengthAdjust="spacingAndGlyphs" stroke="#262626" stroke-width="0.2">7-8</text>
<text x="739.40" y="97.60" font-size="8.6" font-weight="bold" fill="#262626" text-anchor="middle" dominant-baseline="central" textLength="36.0" lengthAdjust="spacingAndGlyphs" stroke="#262626" stroke-width="0.2">หอพักนิสิต</text>
<text x="780.60" y="88.80" font-size="11" font-weight="bold" fill="#262626" text-anchor="middle" dominant-baseline="central" textLength="19.0" lengthAdjust="spacingAndGlyphs" stroke="#262626" stroke-width="0.2">9-10</text>
<text x="780.80" y="97.60" font-size="8.6" font-weight="bold" fill="#262626" text-anchor="middle" dominant-baseline="central" textLength="36.0" lengthAdjust="spacingAndGlyphs" stroke="#262626" stroke-width="0.2">หอพักนิสิต</text>
<text x="652.60" y="122.80" font-size="9.4" font-weight="bold" fill="#1f2a5a" text-anchor="middle" dominant-baseline="central" stroke="#1f2a5a" stroke-width="0.2">1</text>
<text x="676.80" y="122.80" font-size="9.4" font-weight="bold" fill="#1f2a5a" text-anchor="middle" dominant-baseline="central" stroke="#1f2a5a" stroke-width="0.2">2</text>
<text x="701.60" y="122.80" font-size="9.4" font-weight="bold" fill="#1f2a5a" text-anchor="middle" dominant-baseline="central" stroke="#1f2a5a" stroke-width="0.2">3</text>
<text x="726.00" y="122.80" font-size="9.4" font-weight="bold" fill="#1f2a5a" text-anchor="middle" dominant-baseline="central" stroke="#1f2a5a" stroke-width="0.2">4</text>
<text x="689.40" y="138.20" font-size="8.6" font-weight="bold" fill="#262626" text-anchor="middle" dominant-baseline="central" textLength="36.0" lengthAdjust="spacingAndGlyphs" stroke="#262626" stroke-width="0.2">หอพักนิสิต</text>
<text x="780.00" y="138.80" font-size="8.5" font-weight="bold" fill="#1a1a1a" text-anchor="middle" dominant-baseline="central" stroke="#1a1a1a" stroke-width="0.2">11</text>
<text x="421.80" y="206.30" font-size="8.6" font-weight="bold" fill="#262626" text-anchor="middle" dominant-baseline="central" textLength="66.5" lengthAdjust="spacingAndGlyphs" stroke="#262626" stroke-width="0.2">คณะพยาบาลศาสตร์</text>
<text x="515.70" y="220.40" font-size="8.6" font-weight="bold" fill="#262626" text-anchor="middle" dominant-baseline="central" textLength="56.5" lengthAdjust="spacingAndGlyphs" stroke="#262626" stroke-width="0.2">คณะเภสัชศาสตร์</text>
<text x="584.00" y="199.70" font-size="8.6" font-weight="bold" fill="#262626" text-anchor="middle" dominant-baseline="central" textLength="36.0" lengthAdjust="spacingAndGlyphs" stroke="#262626" stroke-width="0.2">ลานจอดรถ</text>
<text x="584.40" y="213.30" font-size="8.6" font-weight="bold" fill="#262626" text-anchor="middle" dominant-baseline="central" textLength="45.5" lengthAdjust="spacingAndGlyphs" stroke="#262626" stroke-width="0.2">ชมพูพันธุ์ทิพย์</text>
<text x="657.80" y="213.30" font-size="8.6" font-weight="bold" fill="#262626" text-anchor="middle" dominant-baseline="central" textLength="31.0" lengthAdjust="spacingAndGlyphs" stroke="#262626" stroke-width="0.2">ลานชงโค</text>
<text x="601.30" y="244.20" font-size="8.6" font-weight="bold" fill="#262626" text-anchor="middle" dominant-baseline="central" textLength="61.0" lengthAdjust="spacingAndGlyphs" stroke="#262626" stroke-width="0.2">คณะสหเวชศาสตร์</text>
<text x="597.50" y="258.30" font-size="8.6" font-weight="bold" fill="#262626" text-anchor="middle" dominant-baseline="central" textLength="45.0" lengthAdjust="spacingAndGlyphs" stroke="#262626" stroke-width="0.2">กายภาพบำบัด</text>
<text x="667.50" y="245.50" font-size="8.6" font-weight="bold" fill="#262626" text-anchor="middle" dominant-baseline="central" textLength="21.0" lengthAdjust="spacingAndGlyphs" stroke="#262626" stroke-width="0.2">อาคาร</text>
<text x="667.50" y="260.00" font-size="8.6" font-weight="bold" fill="#262626" text-anchor="middle" dominant-baseline="central" textLength="57.5" lengthAdjust="spacingAndGlyphs" stroke="#262626" stroke-width="0.2">นวัตกรรมสุขภาวะ</text>
<text x="667.50" y="274.30" font-size="8.6" font-weight="bold" fill="#262626" text-anchor="middle" dominant-baseline="central" textLength="62.5" lengthAdjust="spacingAndGlyphs" stroke="#262626" stroke-width="0.2">อาหารและนิติกรรม</text>
<text x="443.80" y="254.20" font-size="8.6" font-weight="bold" fill="#262626" text-anchor="middle" dominant-baseline="central" textLength="40.0" lengthAdjust="spacingAndGlyphs" stroke="#262626" stroke-width="0.2">เรือนไทยหมู่</text>
<text x="444.50" y="267.00" font-size="8.6" font-weight="bold" fill="#262626" text-anchor="middle" dominant-baseline="central" textLength="61.0" lengthAdjust="spacingAndGlyphs" stroke="#262626" stroke-width="0.2">๕ หลังกระหม่อมแก้ว</text>
<text x="431.60" y="349.50" font-size="9" font-weight="normal" fill="#fbeaea" text-anchor="middle" dominant-baseline="central" textLength="26.0" lengthAdjust="spacingAndGlyphs">วงเวียน</text>
<text x="602.50" y="301.80" font-size="8.6" font-weight="bold" fill="#262626" text-anchor="middle" dominant-baseline="central" textLength="25.0" lengthAdjust="spacingAndGlyphs" stroke="#262626" stroke-width="0.2">หอสมุด</text>
<text x="650.60" y="314.20" font-size="8.6" font-weight="bold" fill="#262626" text-anchor="middle" dominant-baseline="central" textLength="21.0" lengthAdjust="spacingAndGlyphs" stroke="#262626" stroke-width="0.2">อาคาร</text>
<text x="650.80" y="326.30" font-size="8.6" font-weight="bold" fill="#262626" text-anchor="middle" dominant-baseline="central" textLength="24.5" lengthAdjust="spacingAndGlyphs" stroke="#262626" stroke-width="0.2">พื้นฐาน</text>
<text x="698.80" y="312.60" font-size="8.6" font-weight="bold" fill="#262626" text-anchor="middle" dominant-baseline="central" textLength="21.0" lengthAdjust="spacingAndGlyphs" stroke="#262626" stroke-width="0.2">อาคาร</text>
<text x="698.80" y="326.80" font-size="8.6" font-weight="bold" fill="#262626" text-anchor="middle" dominant-baseline="central" textLength="42.5" lengthAdjust="spacingAndGlyphs" stroke="#262626" stroke-width="0.2">ปฏิบัติการ AI</text>
<text x="759.60" y="329.30" font-size="8.6" font-weight="bold" fill="#262626" text-anchor="middle" dominant-baseline="central" textLength="50.7" lengthAdjust="spacingAndGlyphs" stroke="#262626" stroke-width="0.2">อาคารศูนย์วิจัย</text>
<text x="761.00" y="353.30" font-size="8.6" font-weight="bold" fill="#262626" text-anchor="middle" dominant-baseline="central" textLength="44.0" lengthAdjust="spacingAndGlyphs" stroke="#262626" stroke-width="0.2">อาคารสโมสร</text>
<text x="553.80" y="379.30" font-size="8.6" font-weight="bold" fill="#262626" text-anchor="middle" dominant-baseline="central" textLength="21.0" lengthAdjust="spacingAndGlyphs" stroke="#262626" stroke-width="0.2">อาคาร</text>
<text x="553.00" y="392.60" font-size="8.6" font-weight="bold" fill="#262626" text-anchor="middle" dominant-baseline="central" textLength="36.0" lengthAdjust="spacingAndGlyphs" stroke="#262626" stroke-width="0.2">อำนวยการ</text>
<text x="601.00" y="376.70" font-size="8.6" font-weight="bold" fill="#262626" text-anchor="middle" dominant-baseline="central" textLength="21.0" lengthAdjust="spacingAndGlyphs" stroke="#262626" stroke-width="0.2">อาคาร</text>
<text x="601.30" y="391.00" font-size="8.6" font-weight="bold" fill="#262626" text-anchor="middle" dominant-baseline="central" textLength="40.7" lengthAdjust="spacingAndGlyphs" stroke="#262626" stroke-width="0.2">กิจกรรมนิสิต</text>
<text x="654.20" y="381.80" font-size="8.6" font-weight="bold" fill="#262626" text-anchor="middle" dominant-baseline="central" textLength="21.0" lengthAdjust="spacingAndGlyphs" stroke="#262626" stroke-width="0.2">อาคาร</text>
<text x="653.20" y="395.00" font-size="8.6" font-weight="bold" fill="#262626" text-anchor="middle" dominant-baseline="central" textLength="29.0" lengthAdjust="spacingAndGlyphs" stroke="#262626" stroke-width="0.2">เรียนรวม</text>
<text x="696.40" y="373.80" font-size="8.6" font-weight="bold" fill="#262626" text-anchor="middle" dominant-baseline="central" textLength="44.0" lengthAdjust="spacingAndGlyphs" stroke="#262626" stroke-width="0.2">สนามเทนนิส</text>
<text x="530.30" y="433.80" font-size="9.5" font-weight="bold" fill="#3a0f3a" text-anchor="middle" dominant-baseline="central" textLength="44.0" lengthAdjust="spacingAndGlyphs" stroke="#3a0f3a" stroke-width="0.2">อาคารกีฬา 2</text>
<text x="530.80" y="475.00" font-size="9.5" font-weight="bold" fill="#3a2a4a" text-anchor="middle" dominant-baseline="central" textLength="44.0" lengthAdjust="spacingAndGlyphs" stroke="#3a2a4a" stroke-width="0.2">อาคารกีฬา 1</text>
<text x="446.50" y="454.30" font-size="8.6" font-weight="bold" fill="#262626" text-anchor="middle" dominant-baseline="central" textLength="56.0" lengthAdjust="spacingAndGlyphs" stroke="#262626" stroke-width="0.2">สนามซอฟท์บอล</text>
<text x="428.20" y="500.80" font-size="8.6" font-weight="bold" fill="#262626" text-anchor="middle" dominant-baseline="central" textLength="37.5" lengthAdjust="spacingAndGlyphs" stroke="#262626" stroke-width="0.2">สนามยิงธนู</text>
<text x="599.80" y="427.50" font-size="8.6" font-weight="bold" fill="#262626" text-anchor="middle" dominant-baseline="central" textLength="44.5" lengthAdjust="spacingAndGlyphs" stroke="#262626" stroke-width="0.2">สนามฝึกซ้อม</text>
<text x="599.60" y="440.00" font-size="8.6" font-weight="bold" fill="#262626" text-anchor="middle" dominant-baseline="central" textLength="36.0" lengthAdjust="spacingAndGlyphs" stroke="#262626" stroke-width="0.2">ซอฟท์บอล</text>
<text x="603.30" y="462.50" font-size="8.6" font-weight="bold" fill="#262626" text-anchor="middle" dominant-baseline="central" textLength="30.0" lengthAdjust="spacingAndGlyphs" stroke="#262626" stroke-width="0.2">ศูนย์กีฬา</text>
<text x="603.20" y="473.30" font-size="8.6" font-weight="bold" fill="#262626" text-anchor="middle" dominant-baseline="central" textLength="21.7" lengthAdjust="spacingAndGlyphs" stroke="#262626" stroke-width="0.2">สิรินธร</text>
<text x="606.70" y="490.20" font-size="8.6" font-weight="bold" fill="#5a3210" text-anchor="middle" dominant-baseline="central" textLength="21.0" lengthAdjust="spacingAndGlyphs" stroke="#5a3210" stroke-width="0.2">อาคาร</text>
<text x="606.70" y="502.60" font-size="8.6" font-weight="bold" fill="#5a3210" text-anchor="middle" dominant-baseline="central" textLength="22.0" lengthAdjust="spacingAndGlyphs" stroke="#5a3210" stroke-width="0.2">กีฬา 3</text>
<text x="572.30" y="472.40" font-size="8.5" font-weight="bold" fill="#262626" text-anchor="middle" dominant-baseline="central" textLength="42.8" lengthAdjust="spacingAndGlyphs" transform="rotate(-90 572.30 472.40)" stroke="#262626" stroke-width="0.2">คณะพลศึกษา</text>
<text x="715.20" y="467.60" font-size="8.5" font-weight="bold" fill="#262626" text-anchor="middle" dominant-baseline="central" textLength="70.5" lengthAdjust="spacingAndGlyphs" stroke="#262626" stroke-width="0.2">คณะวิศวกรรมศาสตร์</text>
<text x="178.00" y="120.30" font-size="8" font-weight="bold" fill="#262626" text-anchor="middle" dominant-baseline="central" textLength="30.5" lengthAdjust="spacingAndGlyphs" transform="rotate(90 178.00 120.30)" stroke="#262626" stroke-width="0.2">นครนายก</text>
<text x="176.00" y="315.00" font-size="8.5" font-weight="bold" fill="#262626" text-anchor="middle" dominant-baseline="central" textLength="72.7" lengthAdjust="spacingAndGlyphs" transform="rotate(-90 176.00 315.00)" stroke="#262626" stroke-width="0.2">ถนนรังสิต-นครนายก</text>
<text x="192.60" y="506.30" font-size="7.5" font-weight="bold" fill="#262626" text-anchor="middle" dominant-baseline="central" textLength="55.0" lengthAdjust="spacingAndGlyphs" transform="rotate(90 192.60 506.30)" stroke="#262626" stroke-width="0.2">กรุงเทพมหานคร</text>
<text x="218.80" y="280.60" font-size="8.5" font-weight="normal" fill="#0a0a0a" text-anchor="middle" dominant-baseline="central" textLength="76.0" lengthAdjust="spacingAndGlyphs" transform="rotate(-90 218.80 280.60)" stroke="#0a0a0a" stroke-width="0.25">คลองรังสิตประยูรศักดิ์</text>
</g>
<text x="558.80" y="540.00" font-size="9.5" font-weight="bold" fill="#151515" text-anchor="start" dominant-baseline="central" textLength="127.5" lengthAdjust="spacingAndGlyphs" stroke="#151515" stroke-width="0.2">มหาวิทยาลัยศรีนครินทรวิโรฒ องครักษ์</text>
<text x="558.80" y="552.60" font-size="10" font-weight="bold" fill="#151515" text-anchor="start" dominant-baseline="central" textLength="243.7" lengthAdjust="spacingAndGlyphs" stroke="#151515" stroke-width="0.2">63 หมู่ 7 ถนนรังสิต-นครนายก ต.องรักษ์ อ.องครักษ์ จ.นครนายก 26120</text>
<path d="M168,62 H810.7 Q813.7,62 813.7,65 V562 Q813.7,565 810.7,565 H168 V559.8 H808.1 V67 H168 Z" fill="#7f7f7f"/>
<rect x="206" y="565.5" width="27.8" height="2.5" fill="#c9dcf3" opacity="0.6"/>
<rect x="814" y="338" width="8" height="19.5" fill="#c9dcf3" opacity="0.45"/>
<rect x="53.2" y="60.6" width="114.8" height="504.6" fill="#ffff00" stroke="#8c8c6a" stroke-width="0.6"/>
<text x="110.30" y="74.20" font-size="11.5" font-weight="normal" fill="#3d3d14" text-anchor="middle" dominant-baseline="central" textLength="26.0" lengthAdjust="spacingAndGlyphs">สาย 3</text>
<text x="110.30" y="93.30" font-size="8" font-weight="normal" fill="#3d3d14" text-anchor="middle" dominant-baseline="central" textLength="41.0" lengthAdjust="spacingAndGlyphs">เวลาให้บริการ</text>
<text x="109.60" y="109.30" font-size="7.5" font-weight="normal" fill="#3d3d14" text-anchor="middle" dominant-baseline="central" textLength="57.5" lengthAdjust="spacingAndGlyphs">07.00 น. – 20.30 น.</text>
<text x="110.30" y="125.00" font-size="8" font-weight="normal" fill="#3d3d14" text-anchor="middle" dominant-baseline="central" textLength="29.0" lengthAdjust="spacingAndGlyphs">จุดจอดรถ</text>
<text x="59.20" y="146.90" font-size="7.6" font-weight="normal" fill="#3d3d14" text-anchor="start" dominant-baseline="central" textLength="97.5" lengthAdjust="spacingAndGlyphs">หน้าหอพักนิสิต – ลานจอดรถชมพู</text>
<text x="59.20" y="162.60" font-size="7.6" font-weight="normal" fill="#3d3d14" text-anchor="start" dominant-baseline="central" textLength="83.3" lengthAdjust="spacingAndGlyphs">พันธุ์ทิพย์ - คณะกายภาพ ฯ –</text>
<text x="59.20" y="178.70" font-size="7.6" font-weight="normal" fill="#3d3d14" text-anchor="start" dominant-baseline="central" textLength="92.5" lengthAdjust="spacingAndGlyphs">หอสมุดกลาง – แยกอำนวยการ -</text>
<text x="59.20" y="194.30" font-size="7.6" font-weight="normal" fill="#3d3d14" text-anchor="start" dominant-baseline="central" textLength="93.3" lengthAdjust="spacingAndGlyphs">อาคารกีฬา 1-2 และอาคารซอฟท์</text>
<text x="59.20" y="210.10" font-size="7.6" font-weight="normal" fill="#3d3d14" text-anchor="start" dominant-baseline="central" textLength="91.7" lengthAdjust="spacingAndGlyphs">บอล -อาคารสระว่ายน้ำ - อาคาร</text>
<text x="59.20" y="225.90" font-size="7.6" font-weight="normal" fill="#3d3d14" text-anchor="start" dominant-baseline="central" textLength="88.3" lengthAdjust="spacingAndGlyphs">เรียนรวม คณะวิศวะ ฯ - อาคาร</text>
<text x="59.20" y="241.80" font-size="7.6" font-weight="normal" fill="#3d3d14" text-anchor="start" dominant-baseline="central" textLength="70.7" lengthAdjust="spacingAndGlyphs">สโมสร – อาคารพื้นฐาน -</text>
<text x="59.20" y="257.40" font-size="7.6" font-weight="normal" fill="#3d3d14" text-anchor="start" dominant-baseline="central" textLength="92.6" lengthAdjust="spacingAndGlyphs">หอสมุดกลาง - คณะกายภาพ ฯ -</text>
<text x="59.20" y="273.40" font-size="7.6" font-weight="normal" fill="#3d3d14" text-anchor="start" dominant-baseline="central" textLength="92.1" lengthAdjust="spacingAndGlyphs">คณะเภสัช ฯ – คณะพยาบาล ฯ -</text>
<text x="59.20" y="289.10" font-size="7.6" font-weight="normal" fill="#3d3d14" text-anchor="start" dominant-baseline="central" textLength="89.8" lengthAdjust="spacingAndGlyphs">อาคารพลาซ่า – ลานจอดรถราช</text>
<text x="59.20" y="304.90" font-size="7.6" font-weight="normal" fill="#3d3d14" text-anchor="start" dominant-baseline="central" textLength="68.8" lengthAdjust="spacingAndGlyphs">พฤกษ์ – หน้าหอพักนิสิต</text>
<text x="59.20" y="326.60" font-size="7.6" font-weight="normal" fill="#3d3d14" text-anchor="start" dominant-baseline="central" textLength="100.8" lengthAdjust="spacingAndGlyphs">** หมายเหตุ : ตารางวิ่งรถอาจมีการ</text>
<text x="59.20" y="341.90" font-size="7.6" font-weight="normal" fill="#3d3d14" text-anchor="start" dominant-baseline="central" textLength="91.0" lengthAdjust="spacingAndGlyphs">ปรับเปลี่ยนตามสถานการณ์และ</text>
<text x="59.20" y="358.00" font-size="7.6" font-weight="normal" fill="#3d3d14" text-anchor="start" dominant-baseline="central" textLength="82.8" lengthAdjust="spacingAndGlyphs">ความเหมาะสมในแต่ละวัน **</text>
<rect x="138" y="83.3" width="29.4" height="50.9" rx="4.5" fill="#ffffff"/>
<ellipse cx="151.7" cy="128" rx="10.3" ry="3" fill="#86cfc0"/>
<path d="M151.7,127.8 C148,118 139,108.5 139,98 C139,90 144.8,84.7 151.9,84.7 C159,84.7 164.9,90 164.9,98 C164.9,108.5 155.4,118 151.7,127.8 Z" fill="url(#pg)"/>
<circle cx="151.8" cy="97.2" r="7.4" fill="#ffffff"/>
<rect x="381.70" y="10.00" width="261.70" height="20.70" fill="#ff00ff"/>
<rect x="457.60" y="31.60" width="109.80" height="20.20" fill="#ff00ff"/>
<text x="512.50" y="20.40" font-size="10" font-weight="bold" fill="#2a1030" text-anchor="middle" dominant-baseline="central" textLength="260.0" lengthAdjust="spacingAndGlyphs" stroke="#2a1030" stroke-width="0.2">แผนผังเส้นทางวิ่งรถรับ-ส่ง งานกีฬาสาธิตสามัคคี ครั้งที่ 48/2568</text>
<text x="512.60" y="42.00" font-size="10" font-weight="bold" fill="#2a1030" text-anchor="middle" dominant-baseline="central" textLength="107.0" lengthAdjust="spacingAndGlyphs" stroke="#2a1030" stroke-width="0.2">วันที่ 18-24 ธันวาคม 2568</text>
</svg>
</body>
</html>
